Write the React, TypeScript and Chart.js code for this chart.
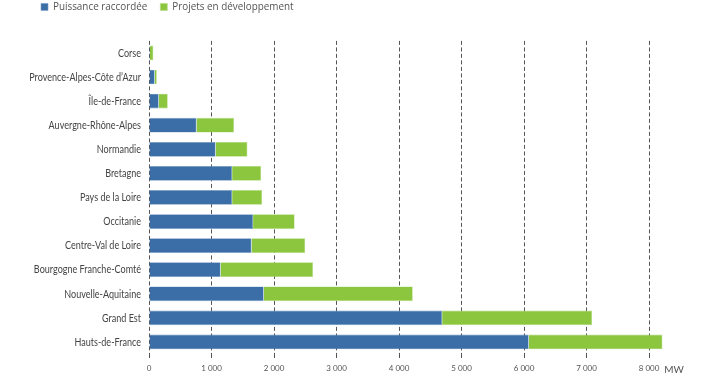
import React, { useEffect, useRef } from "react";
import { Chart, registerables } from "chart.js";

Chart.register(...registerables);

const categories = [
  "Corse",
  "Provence-Alpes-Côte d’Azur",
  "Île-de-France",
  "Auvergne-Rhône-Alpes",
  "Normandie",
  "Bretagne",
  "Pays de la Loire",
  "Occitanie",
  "Centre-Val de Loire",
  "Bourgogne Franche-Comté",
  "Nouvelle-Aquitaine",
  "Grand Est",
  "Hauts-de-France",
];

const puissanceRaccordee = [15, 90, 155, 760, 1065, 1330, 1330, 1665, 1640, 1145, 1835, 4690, 6075];
const projetsDeveloppement = [55, 35, 145, 600, 510, 465, 480, 665, 860, 1480, 2385, 2400, 2140];

const tickValues = [0, 1000, 2000, 3000, 4000, 5000, 6000, 7000, 8000];
const unitTickValue = 8400;
const unitLabel = "MW";

const fmt = (v: number) => {
  const s = String(v);
  return s.length > 3 ? s.slice(0, s.length - 3) + " " + s.slice(-3) : s;
};

const LABEL_SQUEEZE = 0.78;

const layoutTweaks = {
  id: "layoutTweaks",
  afterLayout(chart: any) {
    const lg = chart.legend;
    if (lg) {
      const pad = lg.options.labels.padding;
      const dx = 41 - pad - lg.left;
      lg.left += dx;
      lg.right += dx;
      const dy = -11 - lg.top;
      lg.top += dy;
      lg.bottom += dy;
    }
    const y = chart.scales.y;
    if (y && !y._squeezed) {
      const orig = y.drawLabels;
      y._computeLabelArea = () => undefined;
      y.drawLabels = function (area: any) {
        const ctx = this.ctx;
        const rx = this.right - this.options.ticks.padding;
        ctx.save();
        ctx.translate(rx, 0);
        ctx.scale(LABEL_SQUEEZE, 1);
        ctx.translate(-rx, 0);
        orig.call(this, area);
        ctx.restore();
      };
      y._squeezed = true;
    }
  },
};

export default function App() {
  const ref = useRef<HTMLCanvasElement | null>(null);
  useEffect(() => {
    document.body.style.margin = "0";
    if (!ref.current) return;
    const gridColor = (ctx: any) =>
      ctx.tick && ctx.tick.value === unitTickValue ? "rgba(0,0,0,0)" : "#555555";
    const chart = new Chart(ref.current, {
      type: "bar",
      data: {
        labels: categories,
        datasets: [
          {
            label: "Puissance raccordée",
            data: puissanceRaccordee,
            backgroundColor: "#3b6ea6",
            borderColor: "#7a9fc8",
            borderWidth: 0.6,
            categoryPercentage: 1,
            barPercentage: 0.61,
          },
          {
            label: "Projets en développement",
            data: projetsDeveloppement,
            backgroundColor: "#8cc63f",
            borderColor: "#b3dc80",
            borderWidth: 0.6,
            categoryPercentage: 1,
            barPercentage: 0.61,
          },
        ],
      },
      options: {
        indexAxis: "y",
        responsive: false,
        animation: false,
        layout: { padding: { top: 8, right: 48, bottom: 0, left: 0 } },
        plugins: {
          tooltip: { enabled: false },
          legend: {
            position: "top",
            align: "start",
            labels: {
              boxWidth: 7,
              boxHeight: 7,
              padding: 13,
              color: "#555",
              font: { family: "'Open Sans', Lato, sans-serif", size: 9.9 },
            },
          },
        },
        scales: {
          x: {
            stacked: true,
            min: 0,
            max: unitTickValue,
            afterBuildTicks: (scale: any) => {
              scale.ticks = [...tickValues, unitTickValue].map((v) => ({ value: v }));
            },
            border: { display: false, dash: [4, 2.5], dashOffset: 0 },
            grid: {
              color: gridColor,
              lineWidth: 1,
              tickLength: 4,
              tickBorderDash: [4, 2.5],
              tickColor: gridColor,
            },
            ticks: {
              autoSkip: false,
              maxRotation: 0,
              padding: 6,
              color: "#555",
              font: (ctx: any) =>
                ctx.tick && ctx.tick.value === unitTickValue
                  ? { family: "Lato, sans-serif", size: 10 }
                  : { family: "Lato, sans-serif", size: 8 },
              callback: (v: any) => (Number(v) === unitTickValue ? unitLabel : fmt(Number(v))),
            },
          },
          y: {
            stacked: true,
            afterFit: (scale: any) => {
              scale.width = 149;
            },
            border: { display: false },
            grid: { display: false, drawTicks: false },
            ticks: {
              padding: 8,
              color: "#444",
              font: { family: "Lato, sans-serif", size: 11.6 },
            },
          },
        },
      },
      plugins: [layoutTweaks],
    } as any);
    return () => chart.destroy();
  }, []);
  return (
    <div style={{ width: 722, height: 382 }}>
      <canvas ref={ref} width={722} height={382} />
    </div>
  );
}
